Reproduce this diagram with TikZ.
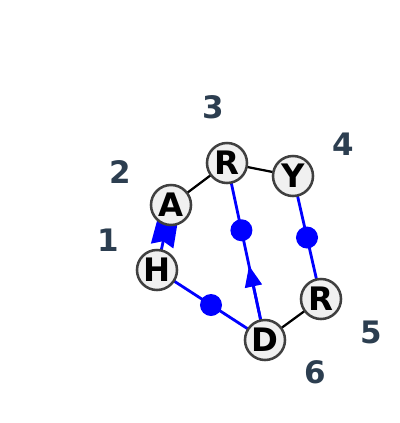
\documentclass[tikz,border=0pt]{standalone}
\usepackage{fontspec}
\setmainfont{DejaVu Sans}
\usetikzlibrary{arrows.meta,calc}
\definecolor{slate}{RGB}{44,62,80}
\tikzset{
res/.style={circle,draw=black!75,line width=1.8pt,fill=black!6,minimum size=1cm,inner sep=0pt,font=\bfseries\fontsize{23}{23}\selectfont},
num/.style={text=slate,font=\bfseries\fontsize{22}{22}\selectfont},
bb/.style={line width=1.6pt},
hb/.style={blue,line width=2pt},
dot/.style={circle,fill=blue,inner sep=0pt,minimum size=0.55cm}
}
\begin{document}
\begin{tikzpicture}[x=0.025cm,y=-0.025cm]
\useasboundingbox[fill=white] (0,0) rectangle (400,423);
\coordinate (h) at (157,270);
\coordinate (a) at (171,205);
\coordinate (r1) at (227,163);
\coordinate (y) at (293,176);
\coordinate (r2) at (321,299);
\coordinate (d) at (265,340);
%%%% bonds
\draw[bb] (a) -- (r1);
\draw[bb] (r1) -- (y);
\draw[bb] (r2) -- (d);
\draw[hb] (h) -- (a);
\begin{scope}[shift={(a)},rotate=257.8,x=0.025cm,y=0.025cm]
\fill[blue] (12,-10) -- (42,-11.5) -- (37,0) -- (42,11.5) -- (12,10) -- cycle;
\end{scope}
\draw[hb] (h) -- node[dot]{} (d);
\draw[hb] (y) -- node[dot]{} (r2);
\draw[hb] (d) -- node[pos=.62,dot]{} (r1);
\draw[hb,-{Triangle[length=15pt,width=12pt]}] (d) -- ($(d)!0.42!(r1)$);
%%%% residues
\node[res] (nh) at (h) {H};
\node[res] (na) at (a) {A};
\node[res] (nr1) at (r1) {R};
\node[res] (ny) at (y) {Y};
\node[res] (nr2) at (r2) {R};
\node[res] (nd) at (d) {D};
%%%% numbers
\node[num] (n1) at (108,240) {1};
\node[num] (n2) at (120,172) {2};
\node[num] (n3) at (213,107) {3};
\node[num] (n4) at (343,144) {4};
\node[num] (n5) at (371,332) {5};
\node[num] (n6) at (315,372) {6};
\end{tikzpicture}
\end{document}
